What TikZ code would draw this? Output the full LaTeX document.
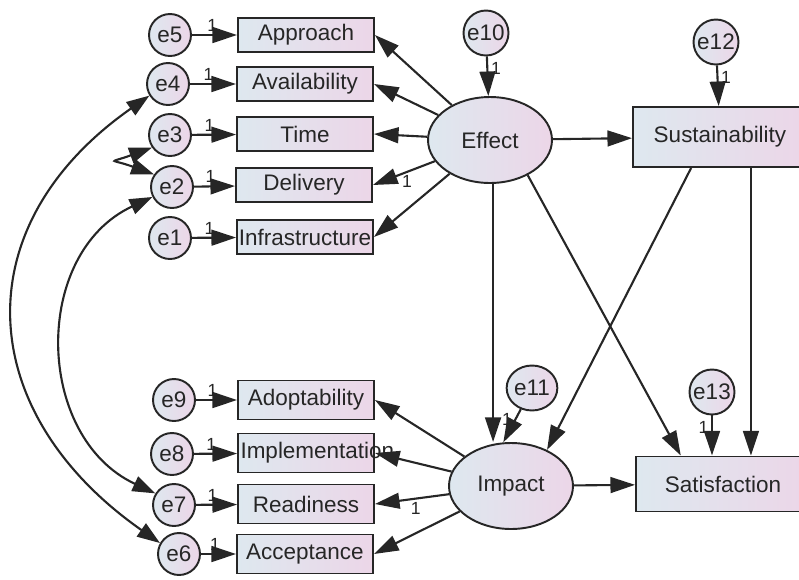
\documentclass[tikz,border=0pt]{standalone}
\usepackage{fontspec}
\setmainfont{Liberation Sans}
\usetikzlibrary{arrows.meta,shapes.geometric}
\definecolor{fillL}{RGB}{222,232,239}
\definecolor{fillR}{RGB}{236,214,232}
\definecolor{inkgrey}{RGB}{38,38,38}
\begin{document}
\begin{tikzpicture}[x=0.02cm, y=-0.02cm,
font=\fontsize{12.8}{15}\selectfont, text=inkgrey,
every node/.style={inner sep=0pt},
obs/.style={draw=inkgrey, line width=1.1pt, left color=fillL, right color=fillR, minimum width=2.72cm, minimum height=0.68cm},
obsb/.style={obs, minimum height=0.78cm},
dep/.style={obs, minimum width=3.48cm},
lat/.style={draw=inkgrey, line width=1.1pt, ellipse, left color=fillL, right color=fillR, minimum width=2.48cm, minimum height=1.72cm},
err/.style={draw=inkgrey, line width=1.1pt, circle, left color=fillL, right color=fillR, minimum size=0.84cm},
errb/.style={err, minimum size=0.9cm},
one/.style={font=\fontsize{10}{11}\selectfont, inner sep=1.5pt},
path/.style={draw=inkgrey, line width=1.2pt, -{Triangle[length=14pt, width=9pt]}},
cov/.style={draw=inkgrey, line width=1.2pt, {Triangle[length=13pt, width=9pt]}-{Triangle[length=13pt, width=9pt]}}]
\useasboundingbox (0,0) rectangle (799,579);
\node[obs] (approach) at (306,35) {Approach};
\node[obs] (avail) at (305,84) {Availability};
\node[obs] (time) at (305,134) {Time};
\node[obs] (deliv) at (304,185) {Delivery};
\node[obs] (infra) at (305,237) {Infrastructure};
\node[err] (e5) at (170,35) {e5};
\node[err] (e4) at (168,84) {e4};
\node[err] (e3) at (170,135) {e3};
\node[err] (e2) at (172,187) {e2};
\node[err] (e1) at (170,238) {e1};
\node[obsb] (adopt) at (306,400) {Adoptability};
\node[obsb, text width=2.62cm, align=left] (implem) at (306,453) {\mbox{Implementation}};
\node[obsb] (ready) at (306,504) {Readiness};
\node[obsb] (accept) at (305,554) {Acceptance};
\node[err] (e9) at (174,400) {e9};
\node[err] (e8) at (172,454) {e8};
\node[err] (e7) at (174,505) {e7};
\node[err] (e6) at (179,554) {e6};
\node[lat] (effect) at (490,140) {Effect};
\node[lat] (impact) at (511,486) {Impact};
\node[dep, minimum height=1.2cm] (sustain) at (720,137) {Sustainability};
\node[dep, minimum height=1.1cm] (satisf) at (723,484) {Satisfaction};
\node[errb] (e10) at (486,33) {e10};
\node[errb] (e12) at (716,42) {e12};
\node[errb] (e13) at (712,392) {e13};
\node[err, ellipse, minimum width=0.74cm, minimum height=0.9cm] (e11) at (532,388) {e11};
\draw[path] (e5) -- node[one, pos=0.45, above] {1} (approach);
\draw[path] (e4) -- node[one, pos=0.4, above] {1} (avail);
\draw[path] (e3) -- node[one, pos=0.4, above] {1} (time);
\draw[path] (e2) -- node[one, pos=0.4, above] {1} (deliv);
\draw[path] (e1) -- node[one, pos=0.4, above] {1} (infra);
\draw[path] (e9) -- node[one, pos=0.4, above] {1} (adopt);
\draw[path] (e8) -- node[one, pos=0.4, above] {1} (implem);
\draw[path] (e7) -- node[one, pos=0.4, above] {1} (ready);
\draw[path] (e6) -- node[one, pos=0.4, above] {1} (accept);
\draw[path] (effect) -- (approach.east);
\draw[path] (effect) -- (avail.east);
\draw[path] (effect) -- (time.east);
\draw[path] (effect) -- node[one, pos=0.45, below] {1} (deliv.east);
\draw[path] (effect) -- (infra.east);
\draw[path] (impact) -- (adopt.east);
\draw[path] (impact) -- (implem.east);
\draw[path] (impact) -- node[one, pos=0.45, below] {1} (ready.east);
\draw[path] (impact) -- (accept.east);
\draw[path] (e10) -- node[one, pos=0.3, right] {1} (effect);
\draw[path] (e12) -- node[one, pos=0.3, right] {1} (sustain);
\draw[path] (e13) -- node[one, pos=0.3, left] {1} (e13 |- satisf.north);
\draw[path] (e11) -- node[one, pos=0.3, left] {1} (impact.100);
\draw[path] (effect) -- (sustain);
\draw[path] (effect.-86) -- (effect.-86 |- impact.north);
\draw[path] (effect.-43) -- (satisf.146);
\draw[path] (sustain.-133) -- (impact.45);
\draw[path] (sustain.-45) -- (sustain.-45 |- satisf.north);
\draw[path] (impact) -- (satisf);
\draw[cov] (e4.212) to[out=215, in=145, looseness=1.3] (e6.150);
\draw[cov] (e2.207) to[out=205, in=155, looseness=1.15] (e7.148);
\draw[cov] (e3.215) to[out=200, in=160, looseness=4.5] (e2.145);
\end{tikzpicture}
\end{document}
